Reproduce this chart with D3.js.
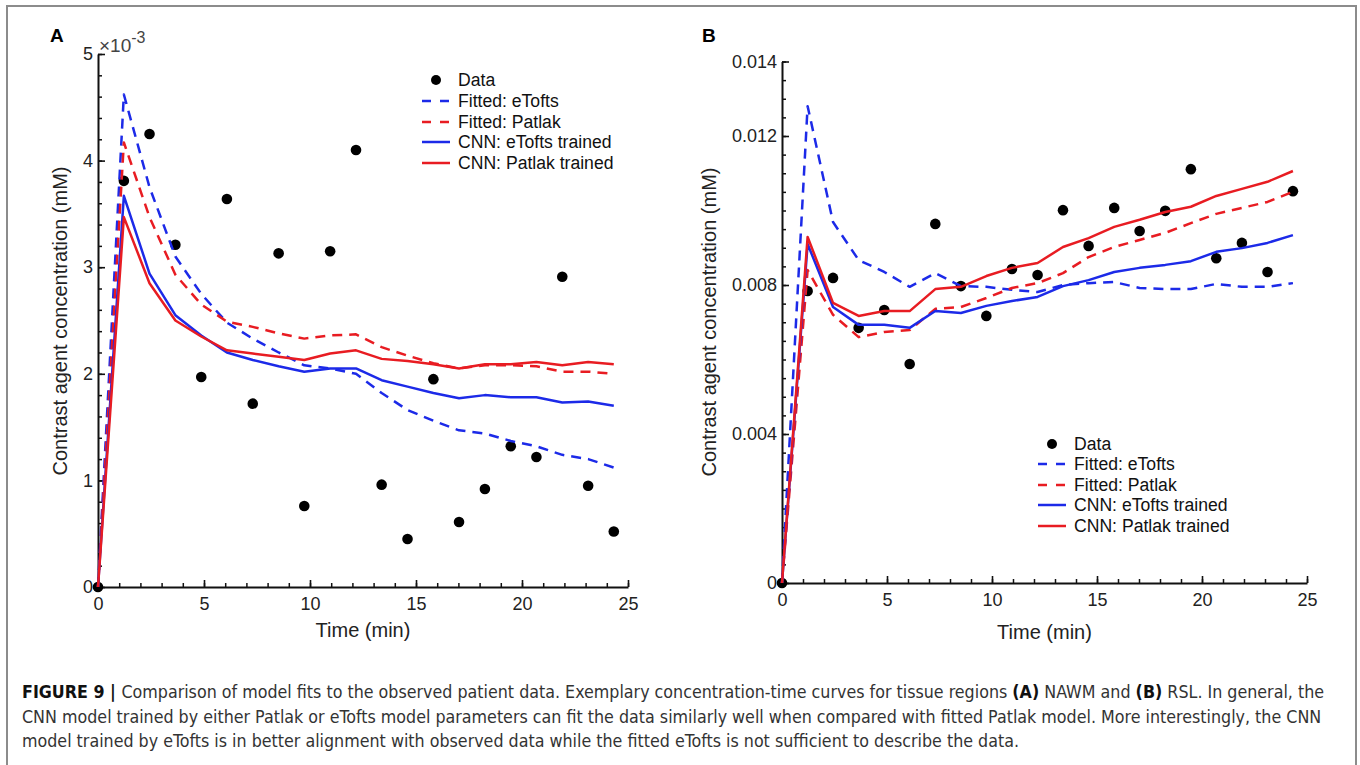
<!DOCTYPE html>
<html><head><meta charset="utf-8">
<script src="https://cdn.jsdelivr.net/npm/d3@7"></script>
<style>body{margin:0;background:#fff}svg{display:block}</style>
</head><body>
<svg id="fig" width="1360" height="765"></svg>
<script>
// ---------------- DATA ----------------
const timeMin = [0, 1.22, 2.43, 3.65, 4.87, 6.08, 7.30, 8.52, 9.73, 10.95, 12.17, 13.38, 14.60, 15.82, 17.03, 18.25, 19.47, 20.68, 21.90, 23.12, 24.33];

// Panel A (values in units of 1e-3 mM)
const dataA       = [0, 3.81, 4.25, 3.21, 1.97, 3.64, 1.72, 3.13, 0.76, 3.15, 4.10, 0.96, 0.45, 1.95, 0.61, 0.92, 1.32, 1.22, 2.91, 0.95, 0.52];
const fitEToftsA  = [0, 4.62, 3.75, 3.10, 2.75, 2.48, 2.33, 2.20, 2.08, 2.05, 2.00, 1.82, 1.66, 1.56, 1.47, 1.44, 1.37, 1.32, 1.24, 1.20, 1.12];
const fitPatlakA  = [0, 4.17, 3.47, 2.93, 2.65, 2.49, 2.44, 2.38, 2.33, 2.36, 2.37, 2.25, 2.17, 2.10, 2.05, 2.08, 2.08, 2.07, 2.02, 2.02, 2.00];
const cnnEToftsA  = [0, 3.67, 2.94, 2.55, 2.36, 2.20, 2.13, 2.07, 2.02, 2.05, 2.05, 1.94, 1.88, 1.82, 1.77, 1.80, 1.78, 1.78, 1.73, 1.74, 1.70];
const cnnPatlakA  = [0, 3.47, 2.85, 2.50, 2.35, 2.22, 2.19, 2.16, 2.13, 2.19, 2.22, 2.14, 2.12, 2.09, 2.05, 2.09, 2.09, 2.11, 2.08, 2.11, 2.09];

// Panel B (values in mM)
const dataB       = [0, 0.00784, 0.00819, 0.00685, 0.00733, 0.00588, 0.00964, 0.00797, 0.00717, 0.00843, 0.00827, 0.01001, 0.00905, 0.01007, 0.00945, 0.00999, 0.01111, 0.00872, 0.00913, 0.00835, 0.01052];
const fitEToftsB  = [0, 0.01280, 0.00969, 0.00867, 0.00835, 0.00795, 0.00832, 0.00797, 0.00795, 0.00787, 0.00781, 0.00800, 0.00805, 0.00808, 0.00792, 0.00789, 0.00789, 0.00803, 0.00795, 0.00795, 0.00805];
const fitPatlakB  = [0, 0.00840, 0.00720, 0.00660, 0.00674, 0.00679, 0.00736, 0.00741, 0.00765, 0.00792, 0.00805, 0.00832, 0.00875, 0.00902, 0.00921, 0.00940, 0.00966, 0.00991, 0.01007, 0.01023, 0.01050];
const cnnEToftsB  = [0, 0.00910, 0.00741, 0.00693, 0.00693, 0.00685, 0.00730, 0.00725, 0.00744, 0.00757, 0.00768, 0.00797, 0.00813, 0.00835, 0.00846, 0.00854, 0.00864, 0.00889, 0.00899, 0.00913, 0.00934];
const cnnPatlakB  = [0, 0.00929, 0.00752, 0.00717, 0.00730, 0.00730, 0.00789, 0.00795, 0.00824, 0.00846, 0.00859, 0.00902, 0.00926, 0.00956, 0.00975, 0.00996, 0.01010, 0.01039, 0.01058, 0.01077, 0.01106];

const legendLabels = ["Data", "Fitted: eTofts", "Fitted: Patlak", "CNN: eTofts trained", "CNN: Patlak trained"];
const xTicks = [0, 5, 10, 15, 20, 25];
const yTicksA = [0, 1, 2, 3, 4, 5];
const yTicksB = [0, 0.004, 0.008, 0.012, 0.014];
const panelLetters = ["A", "B"];
const xLabel = "Time (min)";
const yLabel = "Contrast agent concentration (mM)";

// ---------------- STYLE ----------------
const BLUE = "#1c2ae8", RED = "#e81c22";
const lineStyles = [
  {color: BLUE, dash: "10,7"},
  {color: RED,  dash: "10,7"},
  {color: BLUE, dash: null},
  {color: RED,  dash: null}
];
const FONT = "'Liberation Sans', Arial, Helvetica, sans-serif";

const svg = d3.select("#fig");

// frame
svg.append("rect").attr("x", 7).attr("y", 6).attr("width", 1349).attr("height", 800)
  .attr("fill", "none").attr("stroke", "#8c8c8c").attr("stroke-width", 2);

function drawPanel(cfg) {
  const g = svg.append("g");
  const x = d3.scaleLinear().domain([0, 25]).range([cfg.x0, cfg.x1]);
  const y = d3.scaleLinear().domain(cfg.yDomain).range([cfg.y0, cfg.y1]);

  // minor ticks
  g.append("g").attr("transform", `translate(0,${cfg.y0})`)
    .call(d3.axisBottom(x).tickValues(d3.range(0, 26, 1)).tickSize(-4).tickSizeOuter(0).tickFormat(""))
    .call(s => s.select(".domain").remove())
    .selectAll("line").attr("stroke", "#111").attr("stroke-width", 1.5);
  g.append("g").attr("transform", `translate(${cfg.x0},0)`)
    .call(d3.axisLeft(y).tickValues(cfg.yMinor).tickSize(-4).tickSizeOuter(0).tickFormat(""))
    .call(s => s.select(".domain").remove())
    .selectAll("line").attr("stroke", "#111").attr("stroke-width", 1.5);

  // major axes
  const xa = g.append("g").attr("transform", `translate(0,${cfg.y0})`)
    .call(d3.axisBottom(x).tickValues(xTicks).tickSize(-7).tickSizeOuter(0).tickPadding(10).tickFormat(d3.format("d")));
  const ya = g.append("g").attr("transform", `translate(${cfg.x0},0)`)
    .call(d3.axisLeft(y).tickValues(cfg.yTicks).tickSize(-7).tickSizeOuter(0).tickPadding(5).tickFormat(cfg.yFormat));
  [xa, ya].forEach(a => {
    a.select(".domain").attr("stroke", "#111").attr("stroke-width", 2);
    a.selectAll(".tick line").attr("stroke", "#111").attr("stroke-width", 1.6);
    a.selectAll("text").attr("font-family", FONT).attr("font-size", 18).attr("fill", "#222");
  });

  // data dots
  g.append("g").selectAll("circle").data(timeMin.map((t, i) => [t, cfg.data[i]])).join("circle")
    .attr("cx", d => x(d[0])).attr("cy", d => y(d[1])).attr("r", 5.3).attr("fill", "#000");

  // lines
  const line = d3.line().x(d => x(d[0])).y(d => y(d[1]));
  cfg.series.forEach((vals, k) => {
    g.append("path").datum(timeMin.map((t, i) => [t, vals[i]]))
      .attr("d", line).attr("fill", "none")
      .attr("stroke", lineStyles[k].color).attr("stroke-width", 2.5)
      .attr("stroke-linejoin", "round")
      .attr("stroke-dasharray", lineStyles[k].dash);
  });

  // axis labels
  g.append("text").attr("x", (cfg.x0 + cfg.x1) / 2).attr("y", cfg.xLabelY).attr("dy", "0.35em")
    .attr("text-anchor", "middle").attr("font-family", FONT).attr("font-size", 20).attr("fill", "#222").text(xLabel);
  g.append("text").attr("transform", `translate(${cfg.yLabelX},${cfg.yLabelY}) rotate(-90)`).attr("dy", "0.35em")
    .attr("text-anchor", "middle").attr("font-family", FONT).attr("font-size", 20).attr("fill", "#222").text(yLabel);

  // panel letter
  g.append("text").attr("x", cfg.letterX).attr("y", 35).attr("dy", "0.35em")
    .attr("font-family", FONT).attr("font-weight", "bold").attr("font-size", 19).attr("fill", "#000").text(cfg.letter);

  // legend
  const lg = g.append("g");
  legendLabels.forEach((lab, i) => {
    const ly = cfg.legY[i];
    if (i === 0) {
      lg.append("circle").attr("cx", (cfg.legX0 + cfg.legX1) / 2).attr("cy", ly).attr("r", 5).attr("fill", "#000");
    } else {
      const st = lineStyles[i - 1];
      lg.append("line").attr("x1", cfg.legX0).attr("x2", cfg.legX1).attr("y1", ly).attr("y2", ly)
        .attr("stroke", st.color).attr("stroke-width", 2.5).attr("stroke-dasharray", st.dash ? "9,9" : null);
    }
    lg.append("text").attr("x", cfg.legX1 + 8).attr("y", ly).attr("dy", "0.35em")
      .attr("font-family", FONT).attr("font-size", 17.6).attr("fill", "#111").text(lab);
  });
  return {x, y, g};
}

const pA = drawPanel({
  x0: 98, x1: 628, y0: 587, y1: 54, yDomain: [0, 5],
  yTicks: yTicksA, yMinor: d3.range(0, 5.01, 0.2), yFormat: d3.format("d"),
  data: dataA, series: [fitEToftsA, fitPatlakA, cnnEToftsA, cnnPatlakA],
  xLabelY: 630, yLabelX: 60, yLabelY: 321, letter: panelLetters[0], letterX: 50,
  legX0: 422, legX1: 450, legY: [80, 101, 122, 142, 163]
});
// exponent label
const ex = pA.g.append("text").attr("x", 99).attr("y", 52).attr("font-family", FONT).attr("font-size", 19).attr("fill", "#444");
ex.append("tspan").text("\u00d710");
ex.append("tspan").attr("dy", -9).attr("font-size", 16).text("-3");

drawPanel({
  x0: 782, x1: 1307, y0: 583, y1: 61.5, yDomain: [0, 0.014],
  yTicks: yTicksB, yMinor: d3.range(0, 0.01401, 0.0005), yFormat: d => d === 0 ? "0" : d3.format(".3f")(d),
  data: dataB, series: [fitEToftsB, fitPatlakB, cnnEToftsB, cnnPatlakB],
  xLabelY: 632, yLabelX: 709, yLabelY: 322, letter: panelLetters[1], letterX: 702,
  legX0: 1038, legX1: 1066, legY: [444, 464, 485, 505, 526]
});

// caption
const CAP_FONT = "'Liberation Sans Narrow', 'DejaVu Sans Condensed', 'Liberation Sans', sans-serif";
const capLines = [
  [["FIGURE 9 | ", true], ["Comparison of model fits to the observed patient data. Exemplary concentration-time curves for tissue regions ", false], ["(A)", true], [" NAWM and ", false], ["(B)", true], [" RSL. In general, the", false]],
  [["CNN model trained by either Patlak or eTofts model parameters can fit the data similarly well when compared with fitted Patlak model. More interestingly, the CNN", false]],
  [["model trained by eTofts is in better alignment with observed data while the fitted eTofts is not sufficient to describe the data.", false]]
];
const capY = [692, 717, 741];
const capG = svg.append("g");
const capTexts = capLines.map((parts, i) => {
  const t = capG.append("text").attr("x", 0).attr("y", capY[i]).attr("dy", "0.35em")
    .attr("font-family", CAP_FONT).attr("font-size", 18.5).attr("fill", "#333");
  parts.forEach(([s, b]) => t.append("tspan").attr("font-weight", b ? "bold" : "normal").attr("fill", b ? "#111" : "#333").text(s));
  return t;
});
const w1 = capTexts[0].node().getComputedTextLength();
const sc = 1303 / w1;
capG.attr("transform", `translate(22,0) scale(${sc},1)`);
</script>
</body></html>
